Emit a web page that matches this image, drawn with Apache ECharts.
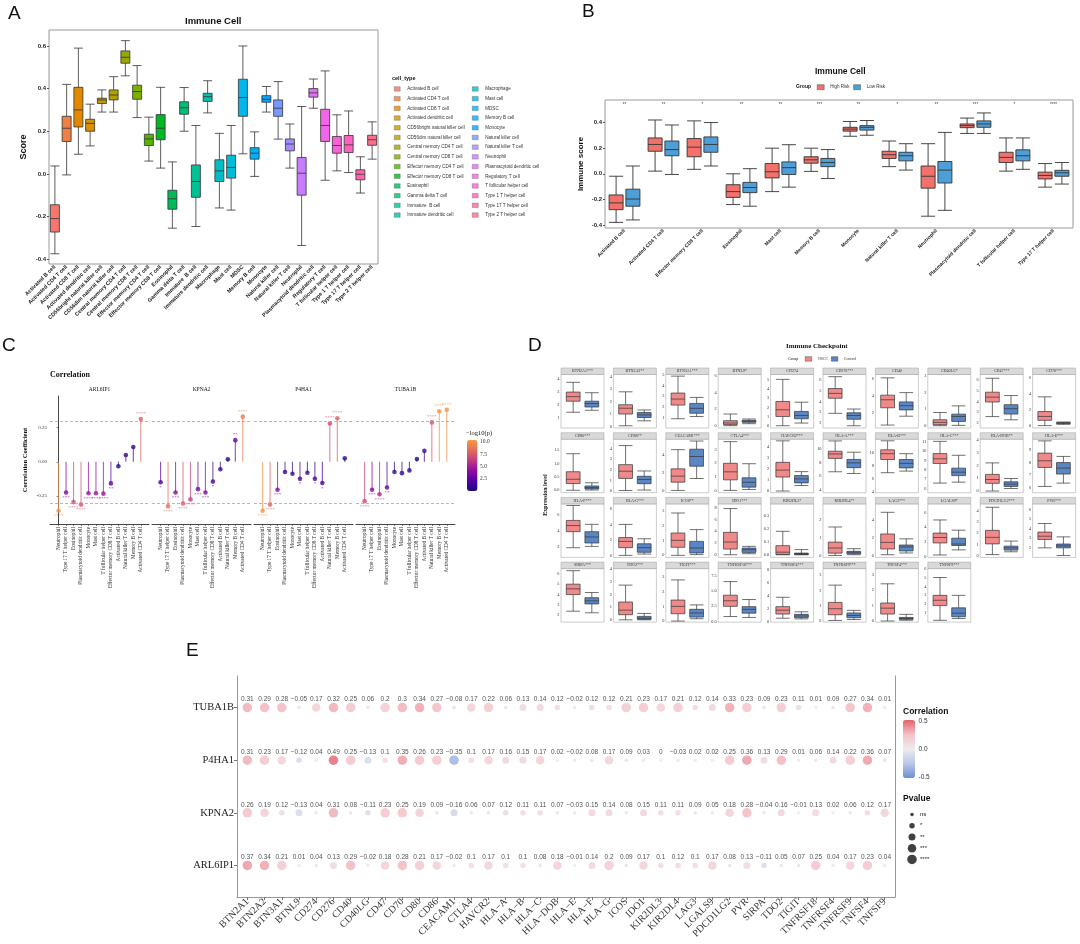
<!DOCTYPE html>
<html>
<head>
<meta charset="utf-8">
<title>Immune cell / checkpoint figure</title>
<script src="https://cdn.jsdelivr.net/npm/echarts@6/dist/echarts.min.js"></script>
<style>
html, body { margin: 0; padding: 0; background: #fff; }
#main { width: 1080px; height: 944px; }
</style>
</head>
<body>
<div id="main"></div>
<script>
// ---------------- A: immune cell scores ----------------
var cellTypes = ['Activated B cell', 'Activated CD4 T cell', 'Activated CD8 T cell', 'Activated dendritic cell',
    'CD56bright natural killer cell', 'CD56dim natural killer cell', 'Central memory CD4 T cell', 'Central memory CD8 T cell',
    'Effector memory CD4 T cell', 'Effector memory CD8 T cell', 'Eosinophil', 'Gamma delta T cell', 'Immature  B cell',
    'Immature dendritic cell', 'Macrophage', 'Mast cell', 'MDSC', 'Memory B cell', 'Monocyte', 'Natural killer cell',
    'Natural killer T cell', 'Neutrophil', 'Plasmacytoid dendritic cell', 'Regulatory T cell', 'T follicular helper cell',
    'Type 1 T helper cell', 'Type 17 T helper cell', 'Type 2 T helper cell'];
// [min, q1, median, q3, max]
var cellScores = [
    [-0.375, -0.273, -0.21, -0.145, 0.037], [-0.005, 0.152, 0.214, 0.27, 0.42], [0.092, 0.22, 0.30, 0.406, 0.59],
    [0.131, 0.20, 0.237, 0.256, 0.327], [0.29, 0.33, 0.347, 0.355, 0.394], [0.29, 0.347, 0.37, 0.394, 0.456],
    [0.46, 0.519, 0.547, 0.577, 0.625], [0.264, 0.35, 0.386, 0.416, 0.508], [0.06, 0.133, 0.164, 0.186, 0.266],
    [0.027, 0.16, 0.214, 0.278, 0.406], [-0.255, -0.166, -0.117, -0.077, 0.056], [0.20, 0.28, 0.31, 0.338, 0.405],
    [-0.247, -0.11, -0.036, 0.042, 0.227], [0.286, 0.34, 0.362, 0.378, 0.437], [-0.16, -0.036, 0.014, 0.066, 0.19],
    [-0.17, -0.02, 0.03, 0.0875, 0.227], [0.094, 0.27, 0.358, 0.444, 0.60], [-0.012, 0.069, 0.097, 0.123, 0.197],
    [0.29, 0.336, 0.35, 0.367, 0.41], [0.163, 0.27, 0.308, 0.347, 0.433], [0.027, 0.108, 0.14, 0.164, 0.234],
    [-0.336, -0.10, 0.003, 0.077, 0.316], [0.308, 0.36, 0.38, 0.40, 0.445], [-0.03, 0.152, 0.227, 0.303, 0.483],
    [0.014, 0.097, 0.133, 0.175, 0.277], [0.006, 0.10, 0.136, 0.18, 0.295], [-0.09, -0.028, -0.002, 0.019, 0.08],
    [0.069, 0.134, 0.16, 0.181, 0.244]];
var aTicks = [-0.4, -0.2, 0, 0.2, 0.4, 0.6];

// ---------------- B: high vs low risk ----------------
var riskCells = ['Activated B cell', 'Activated CD4 T cell', 'Effector memory CD8 T cell', 'Eosinophil', 'Mast cell',
    'Memory B cell', 'Monocyte', 'Natural killer T cell', 'Neutrophil', 'Plasmacytoid dendritic cell',
    'T follicular helper cell', 'Type 17 T helper cell'];
var highRisk = [
    [-0.379, -0.28, -0.227, -0.165, -0.019], [0.021, 0.176, 0.229, 0.28, 0.42], [0.035, 0.133, 0.208, 0.275, 0.413],
    [-0.24, -0.184, -0.139, -0.085, 0.0], [-0.139, -0.032, 0.016, 0.08, 0.2], [0.019, 0.083, 0.109, 0.133, 0.2],
    [0.293, 0.333, 0.349, 0.363, 0.408], [0.056, 0.12, 0.149, 0.176, 0.256], [-0.331, -0.112, -0.019, 0.061, 0.235],
    [0.315, 0.36, 0.376, 0.389, 0.435], [0.021, 0.088, 0.128, 0.168, 0.28], [-0.104, -0.04, -0.013, 0.013, 0.08]];
var lowRisk = [
    [-0.36, -0.253, -0.197, -0.12, 0.061], [-0.005, 0.141, 0.189, 0.256, 0.381], [0.061, 0.168, 0.229, 0.288, 0.40],
    [-0.253, -0.147, -0.107, -0.067, 0.04], [-0.104, -0.005, 0.048, 0.093, 0.227], [-0.037, 0.056, 0.088, 0.12, 0.189],
    [0.301, 0.341, 0.363, 0.376, 0.416], [0.029, 0.101, 0.141, 0.168, 0.235], [-0.285, -0.072, 0.029, 0.096, 0.323],
    [0.315, 0.363, 0.389, 0.413, 0.475], [0.035, 0.101, 0.141, 0.187, 0.28], [-0.08, -0.019, 0.008, 0.027, 0.088]];
var riskSig = ['**', '**', '*', '**', '**', '***', '**', '*', '**', '***', '*', '****'];
var bTicks = [-0.4, -0.2, 0, 0.2, 0.4];

// ---------------- C: gene vs cell correlation ----------------
var corrGenes = ['ARL6IP1', 'KPNA2', 'P4HA1', 'TUBA1B'];
var corrCells = ['Neutrophil', 'Type 17 T helper cell', 'Eosinophil', 'Plasmacytoid dendritic cell', 'Monocyte',
    'Mast cell', 'T follicular helper cell', 'Effector memory CD8 T cell', 'Activated B cell', 'Natural killer T cell',
    'Memory B cell', 'Activated CD4 T cell'];
var corrR = [
    [-0.358, -0.225, -0.295, -0.313, -0.23, -0.23, -0.233, -0.158, -0.033, 0.05, 0.108, 0.313],
    [-0.15, -0.325, -0.225, -0.305, -0.275, -0.2, -0.225, -0.145, -0.055, 0.018, 0.158, 0.33],
    [-0.358, -0.313, -0.205, -0.075, -0.088, -0.125, -0.08, -0.125, -0.155, 0.28, 0.318, 0.025],
    [-0.288, -0.205, -0.238, -0.188, -0.075, -0.083, -0.063, 0.02, 0.08, 0.288, 0.37, 0.38]];
var corrLogP = [
    [10, 3.8, 7, 7.5, 4.5, 4.5, 4.6, 2.5, 0.5, 0.9, 1.2, 8],
    [1.8, 8.5, 3.8, 7.5, 6.5, 3.5, 3.8, 1.6, 0.9, 0.3, 2.6, 9],
    [10, 8, 3.8, 0.9, 1.1, 1.6, 0.9, 1.6, 1.8, 7, 8, 0.5],
    [7, 3.8, 5.5, 2.6, 0.9, 1.1, 0.6, 0.3, 1.1, 7.5, 10, 10]];
var corrSig = [
    ['****', '***', '****', '****', '****', '****', '****', '**', '', '', '', '****'],
    ['*', '****', '***', '****', '****', '***', '***', '*', '', '', '**', '****'],
    ['****', '****', '***', '', '', '*', '', '*', '*', '****', '****', ''],
    ['****', '***', '****', '**', '', '', '', '', '', '****', '****', '****']];
var cTicks = [-0.25, 0, 0.25];
var logPTicks = [2.5, 5, 7.5, 10];

// ---------------- D: immune checkpoint expression ----------------
var checkpoints = ['BTN2A1', 'BTN2A2', 'BTN3A1', 'BTNL9', 'CD274', 'CD276', 'CD40', 'CD40LG', 'CD47', 'CD70',
    'CD80', 'CD86', 'CEACAM1', 'CTLA4', 'HAVCR2', 'HLA-A', 'HLA-B', 'HLA-C', 'HLA-DOB', 'HLA-E',
    'HLA-F', 'HLA-G', 'ICOS', 'IDO1', 'KIR2DL3', 'KIR2DL4', 'LAG3', 'LGALS9', 'PDCD1LG2', 'PVR',
    'SIRPA', 'TDO2', 'TIGIT', 'TNFRSF18', 'TNFRSF4', 'TNFRSF9', 'TNFSF4', 'TNFSF9'];
var checkpointSig = ['***', '**', '***', '*', '', '***', '', '*', '***', '***',
    '***', '**', '***', '***', '***', '***', '***', '***', '**', '***',
    '***', '***', '**', '***', '*', '**', '***', '*', '***', '***',
    '***', '***', '***', '***', '***', '***', '***', '***'];
var oscc = [
    [1.4, 2.25, 2.6, 2.95, 3.7], [0.05, 1.0, 1.47, 1.75, 2.8], [0.95, 2.2, 2.75, 3.3, 4.85], [0.0, 0.12, 0.32, 0.6, 1.4],
    [0.0, 1.01, 1.74, 2.65, 5.07], [2.9, 4.3, 4.75, 5.2, 6.3], [0.55, 2.6, 3.55, 4.1, 6.15], [0.0, 0.06, 0.2, 0.36, 0.8],
    [2.6, 3.95, 4.4, 4.86, 6.15], [0.0, 0.66, 1.15, 1.76, 3.6],
    [0.0, 0.25, 0.41, 0.69, 1.36], [0.06, 1.2, 1.88, 2.5, 4.3], [0.07, 0.98, 1.64, 2.44, 4.55], [0.0, 0.78, 1.37, 2.0, 3.6],
    [0.0, 1.27, 1.9, 2.6, 4.55], [6.65, 8.6, 9.25, 9.65, 11.15], [6.95, 9.0, 9.9, 10.5, 11.9], [6.6, 8.7, 9.2, 9.76, 11.07],
    [0.0, 0.6, 0.9, 1.3, 2.2], [6.13, 7.62, 8.14, 8.74, 9.7],
    [1.83, 3.87, 4.65, 5.3, 7.2], [0.0, 1.0, 1.8, 2.3, 4.0], [0.0, 0.55, 1.02, 1.52, 2.88], [0.0, 0.97, 2.17, 3.83, 7.9],
    [0.0, 0.003, 0.02, 0.07, 0.18], [0.0, 0.13, 0.42, 0.75, 1.6], [0.1, 0.75, 1.5, 2.45, 4.9], [0.2, 1.85, 2.6, 3.2, 5.0],
    [0.1, 1.05, 1.63, 2.25, 4.3], [2.0, 2.88, 3.22, 3.65, 4.55],
    [2.4, 4.0, 4.55, 5.0, 6.3], [0.0, 0.4, 0.76, 1.4, 2.73], [0.0, 0.5, 1.0, 1.43, 2.8], [0.85, 2.5, 3.4, 4.3, 6.5],
    [0.5, 1.15, 1.75, 2.3, 3.75], [0.0, 0.38, 0.78, 1.2, 2.35], [0.0, 0.45, 0.83, 1.16, 2.4], [0.2, 1.85, 2.45, 3.0, 5.0]];
var control = [
    [1.55, 1.8, 2.07, 2.25, 2.9], [0.45, 0.72, 0.93, 1.12, 1.33], [1.15, 1.45, 1.9, 2.35, 2.9], [0.24, 0.4, 0.52, 0.64, 0.8],
    [0.29, 0.76, 1.12, 1.56, 2.57], [1.75, 2.35, 2.7, 2.95, 3.3], [1.6, 2.35, 2.85, 3.3, 4.4], [0.02, 0.26, 0.56, 0.7, 1.2],
    [2.3, 2.83, 3.33, 3.7, 4.55], [0.16, 0.25, 0.33, 0.37, 0.45],
    [0.01, 0.05, 0.1, 0.16, 0.28], [0.1, 0.7, 1.1, 1.4, 1.9], [1.38, 2.73, 3.8, 4.6, 5.5], [0.07, 0.24, 0.6, 0.93, 1.97],
    [0.5, 0.74, 1.1, 1.4, 1.76], [6.4, 7.25, 7.95, 8.45, 9.5], [7.2, 7.7, 8.4, 9.0, 9.9], [6.7, 7.4, 7.77, 8.2, 9.58],
    [0.2, 0.36, 0.54, 0.72, 0.98], [6.39, 7.1, 7.57, 8.0, 8.48],
    [2.0, 2.43, 3.2, 3.87, 4.8], [0.17, 0.4, 1.0, 1.5, 2.15], [0.05, 0.16, 0.5, 0.95, 1.75], [0.17, 0.4, 0.86, 1.14, 1.43],
    [0.0, 0.002, 0.008, 0.013, 0.04], [0.04, 0.09, 0.15, 0.23, 0.38], [0.3, 0.53, 0.98, 1.2, 1.9], [0.9, 1.5, 1.7, 2.5, 3.6],
    [0.35, 0.5, 0.7, 0.85, 1.3], [1.2, 2.0, 2.2, 2.4, 3.15],
    [2.25, 3.1, 3.4, 3.7, 4.2], [0.0, 0.05, 0.13, 0.27, 0.5], [0.16, 0.27, 0.55, 0.8, 1.1], [0.7, 1.4, 2.0, 2.45, 3.6],
    [0.4, 0.6, 0.85, 1.1, 1.5], [0.06, 0.18, 0.33, 0.5, 0.67], [0.05, 0.11, 0.16, 0.23, 0.43], [0.4, 0.6, 1.0, 1.6, 3.0]];
var exprRange = [
    [0.19, 4.3], [-0.13, 4.2], [0.1, 5.0], [-0.28, 6.15], [-0.25, 5.6], [1.54, 6.5], [0.2, 6.55], [-0.14, 3.1], [1.54, 6.5], [-0.3, 6.4],
    [-0.09, 1.9], [-0.15, 4.9], [-0.18, 5.7], [-0.17, 3.78], [-0.15, 4.7], [3.6, 11.4], [3.85, 12.15], [5.57, 11.3], [-0.13, 4.05], [5.64, 9.83],
    [0.6, 7.4], [-0.26, 6.65], [-0.14, 3.5], [-0.46, 8.7], [-0.02, 0.39], [-0.11, 2.9], [-0.2, 5.85], [-0.13, 7.2], [-0.15, 4.6], [1.0, 6.6],
    [1.35, 6.5], [-0.18, 4.03], [-0.07, 3.57], [-0.05, 8.6], [-0.1, 8.2], [-0.11, 3.45], [-0.07, 3.38], [0, 6.0]];
var exprTicks = [
    [1, 2, 3, 4], [0, 1, 2, 3, 4], [1, 2, 3, 4, 5], [0, 2, 4, 6], [0, 1, 2, 3, 4, 5], [2, 3, 4, 5, 6], [2, 4, 6], [0, 1, 2, 3], [2, 3, 4, 5, 6], [0, 2, 4, 6],
    [0, 0.5, 1, 1.5], [0, 1, 2, 3, 4], [0, 2, 4], [0, 1, 2, 3], [0, 1, 2, 3, 4], [4, 6, 8, 10], [4, 6, 8, 10], [6, 7, 8, 9, 10, 11], [0, 1, 2, 3, 4], [6, 7, 8, 9],
    [2, 4, 6], [0, 2, 4, 6], [0, 1, 2, 3], [0, 2, 4, 6, 8], [0, 0.1, 0.2, 0.3], [0, 1, 2], [0, 2, 4], [0, 2, 4, 6], [0, 1, 2, 3, 4], [2, 3, 4, 5, 6],
    [2, 3, 4, 5, 6], [0, 1, 2, 3, 4], [0, 1, 2, 3], [0, 2.5, 5, 7.5], [0, 2, 4, 6, 8], [0, 1, 2, 3], [0, 1, 2, 3], [1, 2, 3, 4, 5, 6]];

// ---------------- E: gene vs checkpoint correlation ----------------
var heatGenes = ['ARL6IP1', 'KPNA2', 'P4HA1', 'TUBA1B'];   // bottom -> top
var heatR = [
    [0.37, 0.34, 0.21, 0.01, 0.04, 0.13, 0.29, -0.02, 0.18, 0.28, 0.21, 0.17, -0.02, 0.1, 0.17, 0.1, 0.1, 0.08, 0.18,
        -0.01, 0.14, 0.2, 0.09, 0.17, 0.1, 0.12, 0.1, 0.17, 0.08, 0.13, -0.11, 0.05, 0.07, 0.25, 0.04, 0.17, 0.23, 0.04],
    [0.26, 0.19, 0.12, -0.13, 0.04, 0.31, 0.08, -0.11, 0.23, 0.25, 0.19, 0.09, -0.16, 0.06, 0.07, 0.12, 0.11, 0.11, 0.07,
        -0.03, 0.15, 0.14, 0.08, 0.15, 0.11, 0.11, 0.09, 0.05, 0.18, 0.28, -0.04, 0.16, -0.01, 0.13, 0.02, 0.06, 0.12, 0.17],
    [0.31, 0.23, 0.17, -0.12, 0.04, 0.49, 0.25, -0.13, 0.1, 0.35, 0.26, 0.23, -0.35, 0.1, 0.17, 0.16, 0.15, 0.17, 0.02,
        -0.02, 0.08, 0.17, 0.09, 0.03, 0, -0.03, 0.02, 0.02, 0.25, 0.36, 0.13, 0.29, 0.01, 0.06, 0.14, 0.22, 0.36, 0.07],
    [0.31, 0.29, 0.28, -0.05, 0.17, 0.32, 0.25, 0.06, 0.2, 0.3, 0.34, 0.27, -0.08, 0.17, 0.22, 0.06, 0.13, 0.14, 0.12,
        -0.02, 0.12, 0.12, 0.21, 0.23, 0.17, 0.21, 0.12, 0.14, 0.33, 0.23, 0.09, 0.23, 0.11, 0.01, 0.09, 0.27, 0.34, 0.01]];
var pLevels = ['ns', '*', '**', '***', '****'];
// |r| cut points that correspond to p = 0.05, 0.01, 0.001, 0.0001
var rCuts = [0.098, 0.129, 0.164, 0.194];
var corrTicks = [-0.5, 0, 0.5];

// ---------------- helpers ----------------
var SANS = '"Liberation Sans", Arial, sans-serif';
var SERIF = '"Liberation Serif", "Times New Roman", serif';
var RED = '#F2716A', BLUE = '#4E9ED8';
var OSCC_RED = '#F08A8A', CTRL_BLUE = '#5B86C4';

// ggplot-like hue palette (polar Luv)
function hcl(h, c, l) {
    var hr = h * Math.PI / 180;
    var U = c * Math.cos(hr), V = c * Math.sin(hr);
    var Xn = 95.047, Yn = 100, Zn = 108.883;
    var Y = l > 8 ? Yn * Math.pow((l + 16) / 116, 3) : Yn * l / 903.3;
    var un = 4 * Xn / (Xn + 15 * Yn + 3 * Zn), vn = 9 * Yn / (Xn + 15 * Yn + 3 * Zn);
    var u = U / (13 * l) + un, v = V / (13 * l) + vn;
    var X = 9 * Y * u / (4 * v);
    var Z = -X / 3 - 5 * Y + 3 * Y / v;
    X /= 100; Y /= 100; Z /= 100;
    var rgb = [3.240479 * X - 1.537150 * Y - 0.498535 * Z,
        -0.969256 * X + 1.875992 * Y + 0.041556 * Z,
        0.055648 * X - 0.204043 * Y + 1.057311 * Z];
    return '#' + rgb.map(function (x) {
        x = x <= 0.0031308 ? 12.92 * x : 1.055 * Math.pow(x, 1 / 2.4) - 0.055;
        x = Math.round(Math.max(0, Math.min(1, x)) * 255);
        return (x < 16 ? '0' : '') + x.toString(16);
    }).join('');
}
var hues = cellTypes.map(function (d, i) { return hcl(15 + i * 360 / cellTypes.length, 100, 65); });

function text(x, y, s, font, align, extra) {
    var el = {
        type: 'text', x: x, y: y, silent: true,
        style: { text: s, font: font, fill: '#111', align: align || 'left', verticalAlign: 'middle' }
    };
    if (extra) { for (var k in extra) el[k] = extra[k]; }
    return el;
}
function minus(s) { return String(s).replace('-', '\u2212'); }

var grids = [], xAxes = [], yAxes = [], series = [], graphics = [], legends = [], visualMaps = [];

// panel letters
graphics.push(text(8, 14, 'A', '19px ' + SANS));
graphics.push(text(582, 12, 'B', '19px ' + SANS));
graphics.push(text(2, 346, 'C', '19px ' + SANS));
graphics.push(text(528, 346, 'D', '19px ' + SANS));
graphics.push(text(186, 651, 'E', '19px ' + SANS));

// ================= A =================
var gA = grids.length;
grids.push({ left: 49, top: 30, width: 329, height: 234, show: true, borderColor: '#9a9a9a', borderWidth: 1 });
var xA = xAxes.length;
xAxes.push({
    gridIndex: gA, type: 'category', data: cellTypes,
    axisLine: { show: false },
    axisTick: { alignWithLabel: true, length: 2, lineStyle: { color: '#555' } },
    axisLabel: { interval: 0, rotate: 45, fontSize: 5.5, fontWeight: 'bold', color: '#222', margin: 2, fontFamily: SANS }
});
var yA = yAxes.length;
yAxes.push({
    gridIndex: gA, type: 'value', min: -0.423, max: 0.675,
    splitLine: { show: false }, axisLine: { show: false },
    axisTick: { show: true, length: 2, customValues: aTicks, lineStyle: { color: '#555' } },
    axisLabel: { customValues: aTicks, formatter: function (v) { return v.toFixed(1); }, fontSize: 6, fontWeight: 'bold', color: '#222', margin: 3, fontFamily: SANS },
    name: 'Score', nameLocation: 'middle', nameGap: 21,
    nameTextStyle: { fontSize: 9, fontWeight: 'bold', color: '#111', fontFamily: SANS }
});
series.push({
    type: 'boxplot', xAxisIndex: xA, yAxisIndex: yA, boxWidth: [9, 9],
    data: cellScores.map(function (v, i) {
        return { value: v, itemStyle: { color: hues[i], borderColor: '#333', borderWidth: 0.8 } };
    })
});
cellTypes.forEach(function (n, i) {
    series.push({ type: 'scatter', name: n, xAxisIndex: xA, yAxisIndex: yA, data: [], itemStyle: { color: hues[i] } });
});
graphics.push(text(185, 21, 'Immune Cell', 'bold 9.5px ' + SANS));
graphics.push(text(392, 78, 'cell_type', 'bold 5.5px ' + SANS));
[cellTypes.slice(0, 14), cellTypes.slice(14)].forEach(function (list, j) {
    legends.push({
        data: list, left: j === 0 ? 394 : 472, top: 86.2, orient: 'vertical', padding: 0,
        icon: 'rect', itemWidth: 6, itemHeight: 4.5, itemGap: 4.2, selectedMode: false,
        itemStyle: { borderColor: '#555', borderWidth: 0.4 },
        textStyle: { fontSize: 4.6, lineHeight: 5.5, color: '#333', fontFamily: SANS, padding: [0, 0, 0, 2] }
    });
});

// ================= B =================
var gB = grids.length;
grids.push({ left: 605, top: 100, width: 468, height: 128, show: true, borderColor: '#9a9a9a', borderWidth: 1 });
var xB = xAxes.length;
xAxes.push({
    gridIndex: gB, type: 'category', data: riskCells,
    axisLine: { show: false },
    axisTick: { alignWithLabel: true, length: 2, lineStyle: { color: '#555' } },
    axisLabel: { interval: 0, rotate: 45, fontSize: 5, fontWeight: 'bold', color: '#222', margin: 2, fontFamily: SANS }
});
xAxes.push({
    gridIndex: gB, type: 'category', data: riskCells, position: 'top',
    axisLine: { show: false }, axisTick: { show: false },
    axisLabel: { inside: true, interval: 0, margin: 2, fontSize: 4.5, color: '#444', fontFamily: SANS,
        formatter: function (v, i) { return riskSig[i]; } }
});
var yB = yAxes.length;
yAxes.push({
    gridIndex: gB, type: 'value', min: -0.423, max: 0.576,
    splitLine: { show: false }, axisLine: { show: false },
    axisTick: { show: true, length: 2, customValues: bTicks, lineStyle: { color: '#555' } },
    axisLabel: { customValues: bTicks, formatter: function (v) { return v.toFixed(1); }, fontSize: 6, fontWeight: 'bold', color: '#222', margin: 3, fontFamily: SANS },
    name: 'Immune score', nameLocation: 'middle', nameGap: 20,
    nameTextStyle: { fontSize: 8, fontWeight: 'bold', color: '#111', fontFamily: SANS }
});
series.push({
    type: 'boxplot', name: 'High Risk', xAxisIndex: xB, yAxisIndex: yB, boxWidth: [14, 14], data: highRisk,
    itemStyle: { color: RED, borderColor: '#333', borderWidth: 0.9 }
});
series.push({
    type: 'boxplot', name: 'Low Risk', xAxisIndex: xB, yAxisIndex: yB, boxWidth: [14, 14], data: lowRisk,
    itemStyle: { color: BLUE, borderColor: '#333', borderWidth: 0.9 }
});
graphics.push(text(815, 72, 'Immune Cell', 'bold 8.5px ' + SANS));
graphics.push(text(796, 87, 'Group', 'bold 5px ' + SANS));
legends.push({
    data: [{ name: 'High Risk', itemStyle: { color: RED } }, { name: 'Low Risk', itemStyle: { color: BLUE } }],
    left: 817, top: 84.5, padding: 0, icon: 'rect',
    itemWidth: 7, itemHeight: 5, itemGap: 4, selectedMode: false,
    itemStyle: { borderColor: '#333', borderWidth: 0.4 },
    textStyle: { fontSize: 4.5, color: '#333', fontFamily: SANS, padding: [0, 0, 0, 1] }
});

// ================= C =================
var cLeft = [50, 152, 254, 356];
var cSeries = [];
graphics.push(text(50, 374.5, 'Correlation', 'bold 8px ' + SERIF));
corrGenes.forEach(function (gene, f) {
    var gi = grids.length;
    grids.push({ left: cLeft[f], top: 396, width: 99, height: 128 });
    var xi = xAxes.length;
    var idx = corrCells.map(function (d, i) { return i; });
    xAxes.push({
        gridIndex: gi, type: 'value', min: -1.15, max: 12.1,
        splitLine: { show: false },
        axisLine: { show: true, onZero: false, lineStyle: { color: '#333', width: 0.9 } },
        axisTick: { customValues: idx, length: 2, lineStyle: { color: '#333', width: 0.6 } },
        axisLabel: { customValues: idx, rotate: 90, fontSize: 5.3, color: '#333', margin: 3, fontFamily: SERIF,
            formatter: function (v) { return corrCells[Math.round(v)] || ''; } }
    });
    var yi = yAxes.length;
    yAxes.push({
        gridIndex: gi, type: 'value', min: -0.455, max: 0.481, splitLine: { show: false },
        axisLine: { show: f === 0, lineStyle: { color: '#333', width: 0.9 } },
        axisTick: { show: f === 0, customValues: cTicks, length: 2, lineStyle: { color: '#333', width: 0.6 } },
        axisLabel: { show: f === 0, customValues: cTicks, fontSize: 5, color: '#333', margin: 3, fontFamily: SERIF,
            formatter: function (v) { return v.toFixed(2); } },
        name: f === 0 ? 'Correlation Coefficient' : '', nameLocation: 'middle', nameGap: 21,
        nameTextStyle: { fontSize: 6.5, fontWeight: 'bold', color: '#111', fontFamily: SERIF }
    });
    var r = corrR[f], p = corrLogP[f], s = corrSig[f];
    cSeries.push(series.length);
    series.push({
        type: 'bar', xAxisIndex: xi, yAxisIndex: yi, barWidth: 1.1, silent: true,
        itemStyle: { opacity: 0.7 },
        data: r.map(function (v, i) { return [i, v, p[i]]; })
    });
    cSeries.push(series.length);
    series.push({
        type: 'scatter', xAxisIndex: xi, yAxisIndex: yi, symbolSize: 4.6, silent: true,
        data: r.map(function (v, i) {
            return {
                value: [i, v, p[i]],
                label: { show: true, formatter: s[i], position: v < 0 ? 'bottom' : 'top', distance: 0.5,
                    fontSize: 5, color: 'inherit', fontFamily: SERIF }
            };
        }),
        markLine: {
            silent: true, symbol: 'none', label: { show: false },
            lineStyle: { type: [3, 2], color: '#9a9a9a', width: 0.7 },
            data: [{ yAxis: 0.3 }, { yAxis: -0.3 }]
        }
    });
    graphics.push(text(cLeft[f] + 49.5, 389.5, gene, '5.5px ' + SERIF, 'center'));
});
visualMaps.push({
    type: 'continuous', seriesIndex: cSeries, dimension: 2, min: 0, max: 10.4,
    inRange: { color: ['#1b0c80', '#5402a3', '#8f0da4', '#c13b82', '#e56b5d', '#f89b40'] },
    left: 467, top: 440, itemWidth: 10.5, itemHeight: 51, padding: 0, calculable: false, hoverLink: false
});
var gCbar = grids.length;
grids.push({ left: 477.5, top: 440, width: 0.5, height: 51 });
xAxes.push({ gridIndex: gCbar, type: 'value', show: false, min: 0, max: 1 });
yAxes.push({
    gridIndex: gCbar, type: 'value', position: 'right', min: 0, max: 10.4,
    axisLine: { show: false }, axisTick: { show: false }, splitLine: { show: false },
    axisLabel: { customValues: logPTicks, formatter: function (v) { return v.toFixed(1); }, fontSize: 5.5, color: '#333', margin: 2, fontFamily: SERIF }
});
graphics.push(text(466, 433, '\u2212log10(p)', '6.5px ' + SERIF));

// ================= D =================
graphics.push(text(786, 346, 'Immune Checkpoint', 'bold 7px ' + SERIF));
graphics.push(text(788, 359, 'Group', '4px ' + SERIF));
legends.push({
    data: [{ name: 'OSCC', itemStyle: { color: OSCC_RED } }, { name: 'Control', itemStyle: { color: CTRL_BLUE } }],
    left: 805, top: 356.5, padding: 0, icon: 'rect',
    itemWidth: 6.5, itemHeight: 4.5, itemGap: 3, selectedMode: false,
    itemStyle: { borderColor: '#333', borderWidth: 0.4 },
    textStyle: { fontSize: 4, color: '#333', fontFamily: SERIF, padding: [0, 0, 0, 1] }
});
graphics.push(text(545, 495, 'Expression level', 'bold 6px ' + SERIF, 'center', { rotation: Math.PI / 2 }));
checkpoints.forEach(function (name, k) {
    var row = Math.floor(k / 10), col = k % 10;
    var left = 561 + col * 52.4, top = 374.5 + row * 64.7, w = 43, h = 53.5;
    var gi = grids.length;
    grids.push({ left: left, top: top, width: w, height: h, show: true, borderColor: '#aaa', borderWidth: 0.6 });
    var xi = xAxes.length;
    xAxes.push({ gridIndex: gi, type: 'category', data: [name], show: false });
    var ticks = exprTicks[k];
    var dec = ticks.every(function (t) { return Math.round(t) === t; }) ? 0 : 1;
    var yi = yAxes.length;
    yAxes.push({
        gridIndex: gi, type: 'value', min: exprRange[k][0], max: exprRange[k][1],
        splitLine: { show: false }, axisLine: { show: false },
        axisTick: { customValues: ticks, length: 1.5, lineStyle: { color: '#666', width: 0.5 } },
        axisLabel: { customValues: ticks, formatter: function (v) { return v.toFixed(dec); }, fontSize: 4.3, color: '#333', margin: 1.5, fontFamily: SERIF }
    });
    series.push({
        type: 'boxplot', name: 'OSCC', xAxisIndex: xi, yAxisIndex: yi, data: [oscc[k]],
        itemStyle: { color: OSCC_RED, borderColor: '#333', borderWidth: 0.7 }
    });
    series.push({
        type: 'boxplot', name: 'Control', xAxisIndex: xi, yAxisIndex: yi, data: [control[k]],
        itemStyle: { color: CTRL_BLUE, borderColor: '#333', borderWidth: 0.7 }
    });
    graphics.push({
        type: 'rect', silent: true, shape: { x: left, y: top - 6.5, width: w, height: 6.5 },
        style: { fill: '#d9d9d9', stroke: '#a0a0a0', lineWidth: 0.5 }
    });
    graphics.push({
        type: 'text', silent: true, x: left + w / 2, y: top - 3.2,
        style: { text: name + checkpointSig[k], font: '4px ' + SERIF, fill: '#333', align: 'center', verticalAlign: 'middle' }
    });
});

// ================= E =================
var gE = grids.length;
grids.push({ left: 237, top: 676, width: 658, height: 221 });
var colIdx = checkpoints.map(function (d, i) { return i; });
var rowIdx = heatGenes.map(function (d, i) { return i; });
var xE = xAxes.length;
xAxes.push({
    gridIndex: gE, type: 'value', min: -0.6, max: checkpoints.length - 0.4,
    splitLine: { show: false },
    axisLine: { show: true, onZero: false, lineStyle: { color: '#999', width: 1 } },
    axisTick: { customValues: colIdx, length: 3, lineStyle: { color: '#777' } },
    axisLabel: { customValues: colIdx, rotate: 45, fontSize: 10, color: '#333', margin: 3, fontFamily: SERIF,
        formatter: function (v) { var n = checkpoints[Math.round(v)]; return n ? minus(n) : ''; } }
});
var yE = yAxes.length;
yAxes.push({
    gridIndex: gE, type: 'value', min: -0.6, max: 3.6,
    splitLine: { show: false },
    axisLine: { show: true, onZero: false, lineStyle: { color: '#999', width: 1 } },
    axisTick: { customValues: rowIdx, length: 3, lineStyle: { color: '#777' } },
    axisLabel: { customValues: rowIdx, fontSize: 10.5, color: '#222', margin: 3, fontFamily: SERIF,
        formatter: function (v) { return heatGenes[Math.round(v)] || ''; } }
});
yAxes.push({
    gridIndex: gE, type: 'value', position: 'right', min: -0.6, max: 3.6,
    splitLine: { show: false }, axisTick: { show: false }, axisLabel: { show: false },
    axisLine: { show: true, onZero: false, lineStyle: { color: '#999', width: 1 } }
});
var eData = [];
heatGenes.forEach(function (g, gi) {
    heatR[gi].forEach(function (v, ci) { eData.push([ci, gi, v]); });
});
var pSizes = [3.5, 5.5, 7, 8.5, 9.5];
function sigLevel(r) {
    var a = Math.abs(r), lv = 0;
    rCuts.forEach(function (c) { if (a >= c) lv++; });
    return lv;
}
var eIndex = series.length;
series.push({
    type: 'scatter', xAxisIndex: xE, yAxisIndex: yE, data: eData, silent: true,
    symbolSize: function (val) { return pSizes[sigLevel(val[2])]; },
    itemStyle: { opacity: 0.85 },
    label: { show: true, position: 'inside', offset: [0, -8], fontSize: 6.5, color: '#333', fontFamily: SANS,
        formatter: function (pt) { return minus(pt.value[2]); } }
});
visualMaps.push({
    type: 'continuous', seriesIndex: [eIndex], dimension: 2, min: -0.52, max: 0.52,
    inRange: { color: ['#6d8fd6', '#b9c7e8', '#ececec', '#f3c1c8', '#e4616c'] },
    left: 903, top: 720, itemWidth: 12, itemHeight: 58, padding: 0, calculable: false, hoverLink: false
});
var gCorr = grids.length;
grids.push({ left: 915, top: 720, width: 0.5, height: 58 });
xAxes.push({ gridIndex: gCorr, type: 'value', show: false, min: 0, max: 1 });
yAxes.push({
    gridIndex: gCorr, type: 'value', position: 'right', min: -0.52, max: 0.52,
    axisLine: { show: false }, axisTick: { show: false }, splitLine: { show: false },
    axisLabel: { customValues: corrTicks, formatter: function (v) { return v.toFixed(1); }, fontSize: 6.5, color: '#333', margin: 3, fontFamily: SANS }
});
graphics.push(text(903, 712, 'Correlation', 'bold 8.5px ' + SANS));
graphics.push(text(903, 799, 'Pvalue', 'bold 8.5px ' + SANS));
var gP = grids.length;
grids.push({ left: 910, top: 809, width: 4, height: 56 });
var xP = xAxes.length;
xAxes.push({ gridIndex: gP, type: 'value', show: false, min: -1, max: 1 });
var yP = yAxes.length;
yAxes.push({
    gridIndex: gP, type: 'category', data: pLevels, inverse: true, position: 'right',
    axisLine: { show: false }, axisTick: { show: false }, splitLine: { show: false },
    axisLabel: { fontSize: 6, color: '#222', margin: 6, fontFamily: SANS }
});
series.push({
    type: 'scatter', xAxisIndex: xP, yAxisIndex: yP, silent: true,
    data: pLevels.map(function (d, i) { return [0, i]; }),
    symbolSize: function (val) { return pSizes[val[1]]; },
    itemStyle: { color: '#111' }
});

var chart = echarts.init(document.getElementById('main'));
chart.setOption({
    animation: false,
    backgroundColor: '#fff',
    textStyle: { fontFamily: SANS },
    grid: grids,
    xAxis: xAxes,
    yAxis: yAxes,
    legend: legends,
    visualMap: visualMaps,
    series: series,
    graphic: { elements: graphics }
});
</script>
</body>
</html>
